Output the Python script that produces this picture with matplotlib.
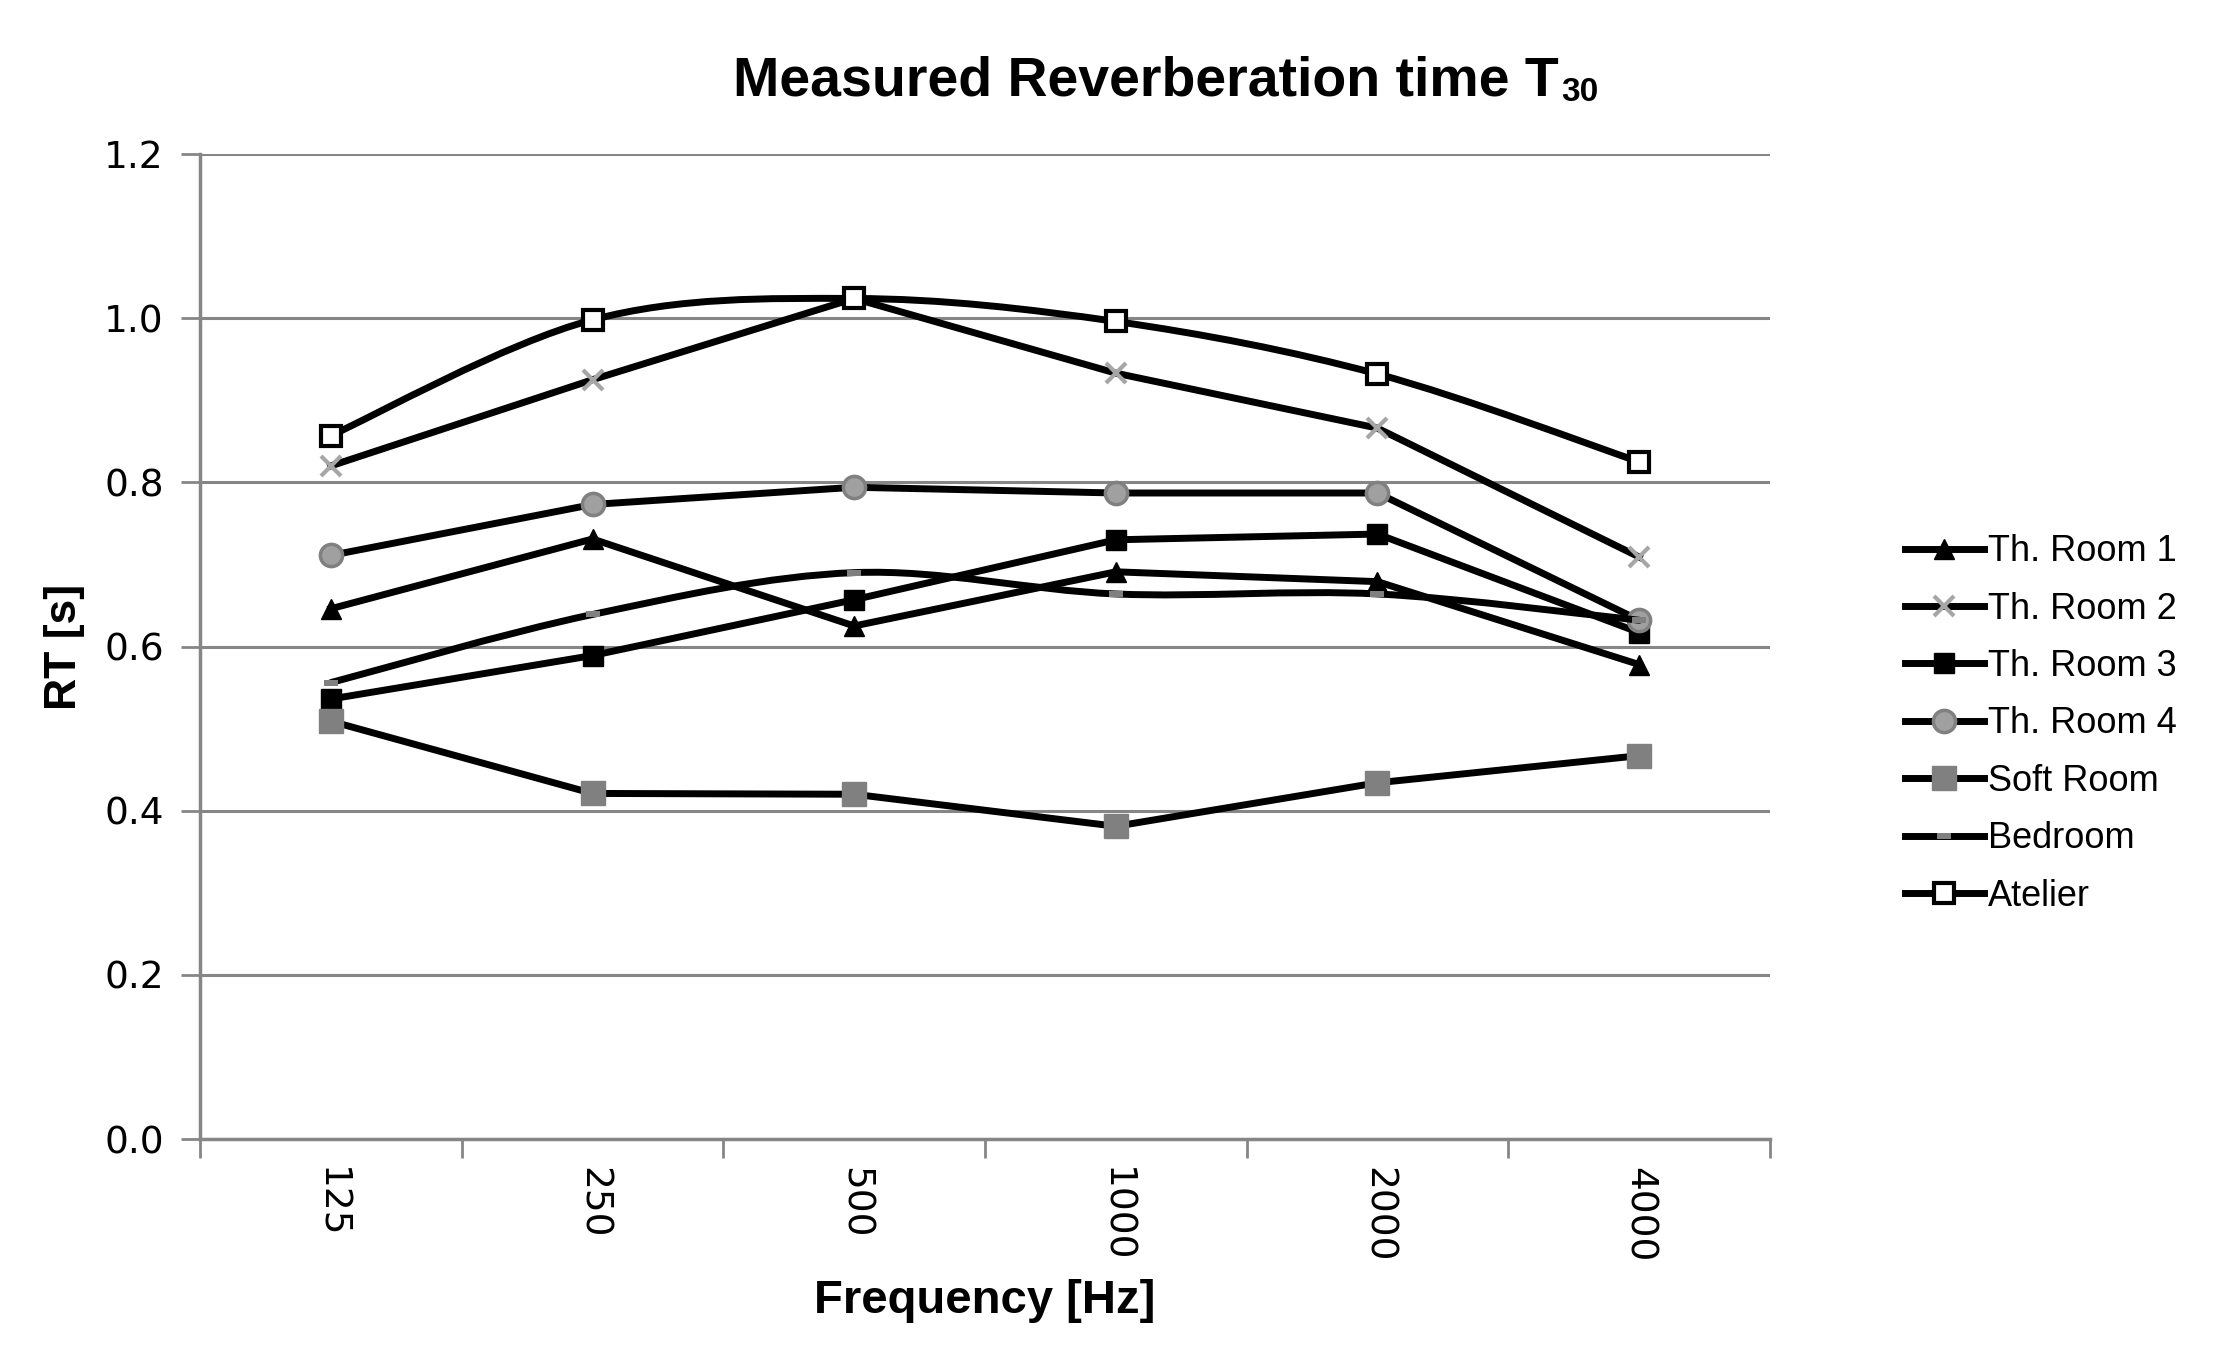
import numpy as np
from matplotlib import pyplot as plt
from matplotlib.lines import Line2D
from matplotlib.path import Path
from matplotlib.patches import PathPatch

# reverberation time T30 [s] per octave band
freqs = ["125", "250", "500", "1000", "2000", "4000"]
th_room_1 = [0.646, 0.731, 0.625, 0.691, 0.679, 0.578]
th_room_2 = [0.820, 0.925, 1.024, 0.933, 0.866, 0.709]
th_room_3 = [0.536, 0.589, 0.657, 0.730, 0.737, 0.617]
th_room_4 = [0.711, 0.773, 0.794, 0.787, 0.787, 0.632]
soft_room = [0.509, 0.421, 0.420, 0.381, 0.434, 0.467]
bedroom = [0.556, 0.639, 0.690, 0.664, 0.664, 0.632]
atelier = [0.857, 0.998, 1.024, 0.996, 0.932, 0.825]

GRID = "#868686"
LW = 5

# name, values, marker style, smoothed line
series = [
    ("Th. Room 1", th_room_1, dict(marker="^", ms=15, mfc="black", mec="black"), False),
    ("Th. Room 2", th_room_2, dict(marker="x", ms=15, mec="#a6a6a6", mew=3), False),
    ("Th. Room 3", th_room_3, dict(marker="s", ms=15, mfc="black", mec="black"), False),
    ("Th. Room 4", th_room_4, dict(marker="o", ms=16, mfc="#a0a0a0", mec="#808080", mew=2.5), False),
    ("Soft Room", soft_room, dict(marker="s", ms=17, mfc="#808080", mec="#808080"), False),
    ("Bedroom", bedroom, dict(marker=[(-1, -0.4), (1, -0.4), (1, 0.4), (-1, 0.4)], ms=10,
                              mfc="#808080", mec="#808080", mew=0), True),
    ("Atelier", atelier, dict(marker="s", ms=15, mfc="white", mec="black", mew=3), True),
]


def smooth_path(xs, ys):
    """Catmull-Rom style bezier through the points, like Excel's smoothed line."""
    pts = np.column_stack([xs, ys]).astype(float)
    n = len(pts)
    verts, codes = [pts[0]], [Path.MOVETO]
    for i in range(n - 1):
        p0, p1 = pts[max(i - 1, 0)], pts[i]
        p2, p3 = pts[i + 1], pts[min(i + 2, n - 1)]
        verts += [p1 + (p2 - p0) / 6, p2 - (p3 - p1) / 6, p2]
        codes += [Path.CURVE4] * 3
    return Path(verts, codes)


fig = plt.figure(figsize=(22.29, 13.6), dpi=100)
ax = fig.add_axes([200 / 2229, 1 - 1139 / 1360, 1570 / 2229, 985 / 1360])

x = np.arange(len(freqs))
handles = []
for name, vals, style, smooth in series:
    if smooth:
        ax.add_patch(PathPatch(smooth_path(x, vals), fill=False, ec="black", lw=LW,
                               capstyle="round", joinstyle="round", zorder=3))
        ax.plot(x, vals, ls="none", zorder=3, **style)
    else:
        ax.plot(x, vals, color="black", lw=LW, solid_joinstyle="round", zorder=3, **style)
    handles.append(Line2D([], [], color="black", lw=LW, **style))

ax.set_xlim(-0.5, len(freqs) - 0.5)
ax.set_ylim(0, 1.2)
ax.set_yticks(np.arange(0, 1.21, 0.2))
ax.set_yticklabels([f"{v:.1f}" for v in np.arange(0, 1.21, 0.2)], fontsize=27,
                   family="DejaVu Sans")
ax.set_xticks(x)
ax.set_xticklabels(freqs, rotation=270, fontsize=27, family="DejaVu Sans")
ax.set_xticks(np.arange(-0.5, len(freqs)), minor=True)
ax.tick_params(axis="x", which="major", length=0, pad=20)
ax.tick_params(axis="x", which="minor", length=14, width=2, color=GRID, direction="out")
ax.tick_params(axis="y", length=14, width=2, color=GRID, pad=12)
ax.yaxis.grid(True, color=GRID, lw=2.2)
ax.set_axisbelow(True)
for side in ("top", "right"):
    ax.spines[side].set_visible(False)
for side in ("left", "bottom"):
    ax.spines[side].set_color(GRID)
    ax.spines[side].set_linewidth(2.5)

narrow = ["Liberation Sans Narrow", "Liberation Sans"]
ax.set_ylabel("RT [s]", fontsize=32, fontweight="bold", family="Liberation Sans", labelpad=14)
ax.set_xlabel("Frequency [Hz]", fontsize=34, fontweight="bold", family=narrow, labelpad=12)

title = fig.text(1146 / 2229, 1 - 96 / 1360, "Measured Reverberation time T", ha="center",
                 va="baseline", fontsize=40, fontweight="bold", family=narrow)
fig.canvas.draw()
ax.annotate("30", xy=(1, 0), xycoords=title, xytext=(2, 0), textcoords="offset points",
            ha="left", va="bottom", fontsize=24, fontweight="bold", family=narrow)

fig.legend(handles, [s[0] for s in series], loc="center left",
           bbox_to_anchor=(1872 / 2229, 1 - 724 / 1360), frameon=False,
           prop={"family": "Liberation Sans", "size": 26},
           handlelength=2.2, handletextpad=0.12, labelspacing=0.62)

fig.savefig("out.png", dpi=100)
